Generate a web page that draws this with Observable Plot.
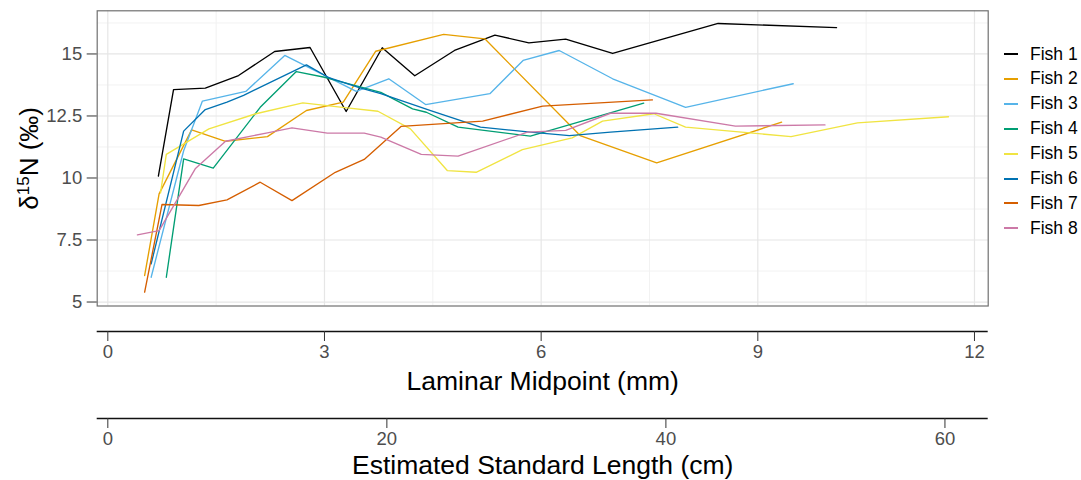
<!DOCTYPE html>
<html><head><meta charset="utf-8">
<script src="https://cdn.jsdelivr.net/npm/d3@7"></script>
<script src="https://cdn.jsdelivr.net/npm/@observablehq/plot@0.6"></script>
<style>
body{margin:0;background:#fff;}
#chart{position:relative;width:1081px;height:480px;font-family:"Liberation Sans",Arial,sans-serif;background:#fff;overflow:hidden}
#chart svg{position:absolute;left:0;overflow:visible;background:transparent}
.leg{position:absolute;left:1000px;height:24px;display:flex;align-items:center;font-size:17.5px;color:#000;white-space:nowrap}
.leg svg{position:static !important;margin-right:10px}
</style></head><body><div id="chart"></div>
<script>
const fishNames = ["Fish 1","Fish 2","Fish 3","Fish 4","Fish 5","Fish 6","Fish 7","Fish 8"];
const fishColors = ["#000000","#E69F00","#56B4E9","#009E73","#F0E442","#0072B2","#D55E00","#CC79A7"];

// [laminar midpoint (mm), d15N (permil)]
const fish1 = [[0.70,10.08],[0.91,13.56],[1.35,13.62],[1.81,14.13],[2.31,15.10],[2.80,15.26],[3.30,12.68],[3.80,15.25],[4.25,14.12],[4.80,15.14],[5.36,15.76],[5.83,15.45],[6.34,15.60],[6.99,15.02],[8.45,16.23],[10.09,16.06]];
const fish2 = [[0.51,6.07],[0.71,9.36],[1.16,11.94],[1.63,11.48],[2.21,11.67],[2.75,12.72],[3.26,13.06],[3.71,15.11],[4.65,15.79],[5.22,15.61],[6.54,11.71],[7.60,10.61],[9.33,12.25]];
const fish3 = [[0.60,6.00],[1.05,11.10],[1.31,13.10],[1.91,13.49],[2.45,14.94],[3.44,13.49],[3.89,14.00],[4.40,12.96],[5.29,13.40],[5.75,14.74],[6.25,15.14],[6.99,14.00],[8.00,12.85],[9.49,13.80]];
const fish4 = [[0.81,6.00],[1.05,10.77],[1.46,10.40],[2.11,12.85],[2.61,14.29],[3.00,14.06],[3.78,13.45],[4.22,12.79],[4.41,12.65],[4.85,12.05],[5.85,11.69],[7.42,13.02]];
const fish5 = [[0.73,9.40],[0.81,10.95],[1.40,11.98],[2.05,12.59],[2.70,13.03],[3.25,12.85],[3.74,12.69],[4.19,11.98],[4.70,10.30],[5.10,10.23],[5.74,11.14],[6.43,11.62],[6.85,12.29],[7.56,12.59],[8.00,12.05],[9.46,11.67],[10.38,12.22],[11.64,12.47]];
const fish6 = [[0.60,6.54],[1.05,11.89],[1.35,12.76],[1.65,13.06],[1.88,13.33],[2.75,14.56],[3.05,14.06],[3.48,13.64],[3.78,13.40],[4.47,12.72],[5.16,12.05],[5.85,11.85],[6.39,11.71],[6.96,11.85],[7.89,12.05]];
const fish7 = [[0.51,5.40],[0.75,8.93],[1.26,8.89],[1.65,9.12],[2.11,9.83],[2.55,9.09],[3.15,10.23],[3.55,10.75],[4.06,12.08],[5.19,12.29],[6.02,12.90],[7.54,13.15]];
const fish8 = [[0.41,7.71],[0.71,7.88],[1.21,10.37],[1.63,11.48],[2.21,11.82],[2.55,12.02],[3.04,11.81],[3.55,11.81],[3.78,11.65],[4.34,10.95],[4.85,10.88],[5.81,11.85],[6.34,11.92],[6.96,12.61],[7.59,12.61],[8.69,12.09],[9.93,12.14]];
const fishSeries = [fish1, fish2, fish3, fish4, fish5, fish6, fish7, fish8];

const yTicks = [5, 7.5, 10, 12.5, 15];
const yMinor = [6.25, 8.75, 11.25, 13.75, 16.25];
const laminarTicks = [0, 3, 6, 9, 12];
const laminarMinor = [1.5, 4.5, 7.5, 10.5];
const lengthTicks = [0, 20, 40, 60];

const data = fishSeries.flatMap((pts, i) => pts.map(([x, y]) => ({fish: fishNames[i], x, y})));

const font = "'Liberation Sans', Arial, sans-serif";
const xDomain = [-0.147, 12.19];
const lenDomain = [-0.761, 63.1];
const W = 1081, mL = 96.7, mR = 93.3;

const main = Plot.plot({
  width: W, height: 310,
  marginLeft: mL, marginRight: mR, marginTop: 10.3, marginBottom: 4.5,
  style: {fontFamily: font, background: "transparent"},
  x: {domain: xDomain, axis: null},
  y: {domain: [4.84, 16.74]},
  color: {domain: fishNames, range: fishColors},
  marks: [
    Plot.gridX(laminarMinor, {stroke: "#f2f2f2", strokeOpacity: 1, strokeWidth: 1}),
    Plot.gridY(yMinor, {stroke: "#f2f2f2", strokeOpacity: 1, strokeWidth: 1}),
    Plot.gridX(laminarTicks, {stroke: "#e6e6e6", strokeOpacity: 1, strokeWidth: 1.2}),
    Plot.gridY(yTicks, {stroke: "#e6e6e6", strokeOpacity: 1, strokeWidth: 1.2}),
    Plot.line(data, {x: "x", y: "y", z: "fish", stroke: "fish", strokeWidth: 1.35}),
    Plot.frame({stroke: "#707070", strokeWidth: 1.2}),
    Plot.axisY(yTicks, {tickSize: 10, tickPadding: 5, stroke: "#333", fill: "#4d4d4d", fontSize: 18.5, label: null, tickFormat: d => String(d)}),
    Plot.axisY({ticks: [], label: "δ15N (‰)", labelAnchor: "center", labelOffset: 78, labelArrow: "none", fontSize: 26, fill: "#000"})
  ]
});
main.style.top = "0px";

// superscript the isotope mass number in the y-axis title
main.querySelectorAll("text").forEach(t => {
  if (t.textContent === "δ15N (‰)") {
    t.textContent = "";
    const ns = "http://www.w3.org/2000/svg";
    const a = document.createElementNS(ns, "tspan"); a.textContent = "δ";
    const b = document.createElementNS(ns, "tspan"); b.textContent = "15";
    b.setAttribute("baseline-shift", "super"); b.setAttribute("font-size", "17");
    const c = document.createElementNS(ns, "tspan"); c.textContent = "N (‰)";
    t.append(a, b, c);
  }
});

function bottomAxis(domain, ticks, label, top, labelOffset) {
  const svg = Plot.plot({
    width: W, height: 75,
    marginLeft: mL, marginRight: mR, marginTop: 10, marginBottom: 64,
    style: {fontFamily: font, background: "transparent"},
    x: {domain, axis: null},
    y: {domain: [0, 1], axis: null},
    marks: [
      Plot.ruleY([0], {stroke: "#111", strokeWidth: 1.5}),
      Plot.axisX(ticks, {anchor: "bottom", tickSize: 10, tickPadding: 3, stroke: "#333", fill: "#4d4d4d", fontSize: 18.5, label: null, tickFormat: d => String(d)}),
      Plot.axisX({anchor: "bottom", ticks: [], label, labelAnchor: "center", labelOffset, labelArrow: "none", fontSize: 26.5, fill: "#000"})
    ]
  });
  svg.style.top = top + "px";
  return svg;
}

const chart = document.getElementById("chart");
chart.appendChild(main);
chart.appendChild(bottomAxis(xDomain, laminarTicks, "Laminar Midpoint (mm)", 320, 58));
chart.appendChild(bottomAxis(lenDomain, lengthTicks, "Estimated Standard Length (cm)", 407, 55.5));

fishNames.forEach((name, i) => {
  const row = document.createElement("div");
  row.className = "leg";
  row.style.top = (54 + 24.9 * i - 12) + "px";
  row.innerHTML = `<svg width="20" height="24"><line x1="4" x2="18" y1="12" y2="12" stroke="${fishColors[i]}" stroke-width="2"/></svg><span>${name}</span>`;
  chart.appendChild(row);
});
</script></body></html>
